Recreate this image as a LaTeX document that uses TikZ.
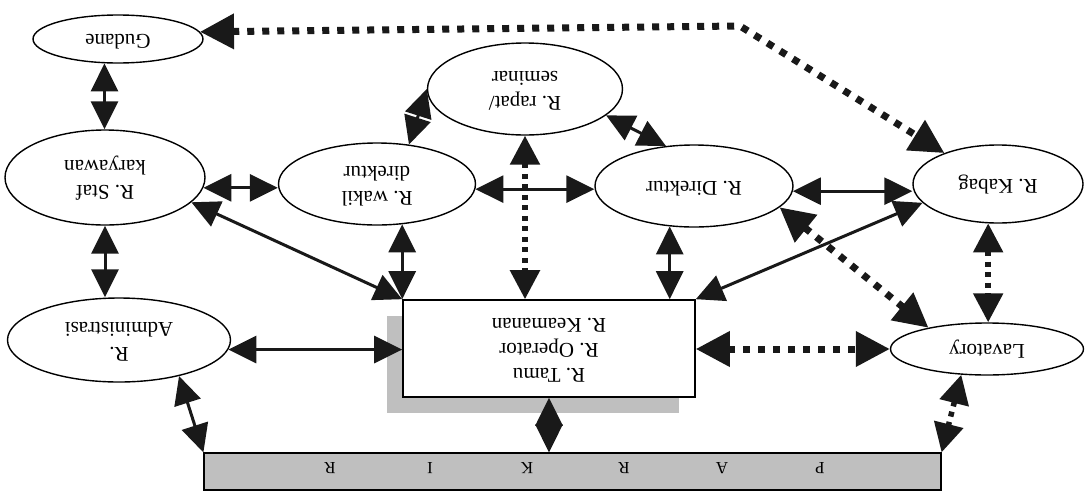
\documentclass[tikz,border=0pt]{standalone}
\usepackage{fontspec}
\setmainfont{Liberation Serif}
\usepackage{graphicx}
\usetikzlibrary{arrows.meta,shapes.geometric,shadows}

% text of every room is printed turned half a circle
\newcommand\flip[1]{\rotatebox{180}{\begin{tabular}{@{}c@{}}#1\end{tabular}}}

\begin{document}
\begin{tikzpicture}[x=1pt,y=-1pt,
  room/.style={ellipse,draw,line width=1.4pt,inner sep=0pt,
    font=\fontsize{21}{25}\selectfont},
  link/.style={line width=3pt,draw=black!90,
    {Triangle[length=28pt,width=27pt]}-{Triangle[length=28pt,width=27pt]}},
  bigdots/.style={line width=7pt,dash pattern=on 7pt off 8pt,draw=black!90,
    {Triangle[length=34pt,width=34pt]}-{Triangle[length=34pt,width=34pt]}},
  smalldots/.style={line width=5.5pt,dash pattern=on 5pt off 5.5pt,draw=black!90,
    {Triangle[length=29pt,width=29pt]}-{Triangle[length=29pt,width=29pt]}},
  letter/.style={font=\fontsize{17}{17}\selectfont,inner sep=0pt}
]
\useasboundingbox (0,0) rectangle (1085,493);

% rooms
\node[room,minimum width=170pt,minimum height=48pt] (gud) at (118,39) {\flip{Gudane}};
\node[room,minimum width=195pt,minimum height=92pt] (rap) at (525,89) {\flip{R. rapat/\\seminar}};
\node[room,minimum width=200pt,minimum height=95pt] (staf) at (105,177.5) {\flip{R. Staf\\karyawan}};
\node[room,minimum width=197pt,minimum height=82pt] (wak) at (377,184) {\flip{R. wakil\\direktur}};
\node[room,minimum width=198pt,minimum height=82pt] (dir) at (694,186) {\flip{R. Direktur}};
\node[room,minimum width=170pt,minimum height=78pt] (kab) at (998,184) {\flip{R. Kabag}};
\node[room,minimum width=223pt,minimum height=84pt] (adm) at (119,340) {\flip{R.\\Administrasi}};
\node[room,minimum width=193pt,minimum height=52pt] (lav) at (987,349) {\flip{Lavatory}};

% central block with its shadow
\node[draw,line width=1.6pt,fill=white,minimum width=292pt,minimum height=97pt,inner sep=0pt,
  font=\fontsize{21}{25}\selectfont,
  drop shadow={shadow xshift=-16pt,shadow yshift=-16pt,fill=black!25,opacity=1}]
  (box) at (549,348.5) {\flip{R. Tamu\\R. Operator\\R. Keamanan}};

% parking strip
\node[draw,line width=1.2pt,fill=black!25,minimum width=737pt,minimum height=37pt,inner sep=0pt]
  (park) at (572.5,471.5) {};
\node[letter] (l1) at (820,468) {\rotatebox{180}{P}};
\node[letter] (l2) at (722,468) {\rotatebox{180}{A}};
\node[letter] (l3) at (624,468) {\rotatebox{180}{R}};
\node[letter] (l4) at (527,468) {\rotatebox{180}{K}};
\node[letter] (l5) at (430,468) {\rotatebox{180}{I}};
\node[letter] (l6) at (330,468) {\rotatebox{180}{R}};

\coordinate (gk) at (740,26);

% connections
\draw[bigdots] (gud.5) -- (gk) -- (kab.150);
\draw[link] (gud.-119) -- (gud.-119 |- staf.north);
\draw[link] (staf.-6) -- (staf.-6 -| wak.west);
\draw[link] (wak.-3) -- (wak.-3 -| dir.west);
\draw[link] (dir.-3) -- (dir.-3 -| kab.west);
\draw[link] (wak.51) -- (rap.west);
\draw[link] (rap.-18) -- (dir.125);
\draw[smalldots] (rap.south) -- (rap.south |- box.north);
\draw[link] (staf.south) -- (staf.south |- adm.north);
\draw[link] (wak.-58) -- (wak.-58 |- box.north);
\draw[link] (dir.-121) -- (dir.-121 |- box.north);
\draw[link] (staf.-16) -- (box.north west);
\draw[link] (box.north east) -- (kab.194);
\draw[bigdots] (dir.-14) -- (lav.160);
\draw[smalldots] (kab.-104) -- (kab.-104 |- lav.north);
\draw[link] (adm.-5) -- (adm.-5 -| box.west);
\draw[bigdots] (box.east |- lav.west) -- (lav.west);
\draw[link] (adm.-31) -- (park.north west);
\draw[link] (box.south) -- (box.south |- park.north);
\draw[smalldots] (lav.-135) -- (park.north east);
\end{tikzpicture}
\end{document}
